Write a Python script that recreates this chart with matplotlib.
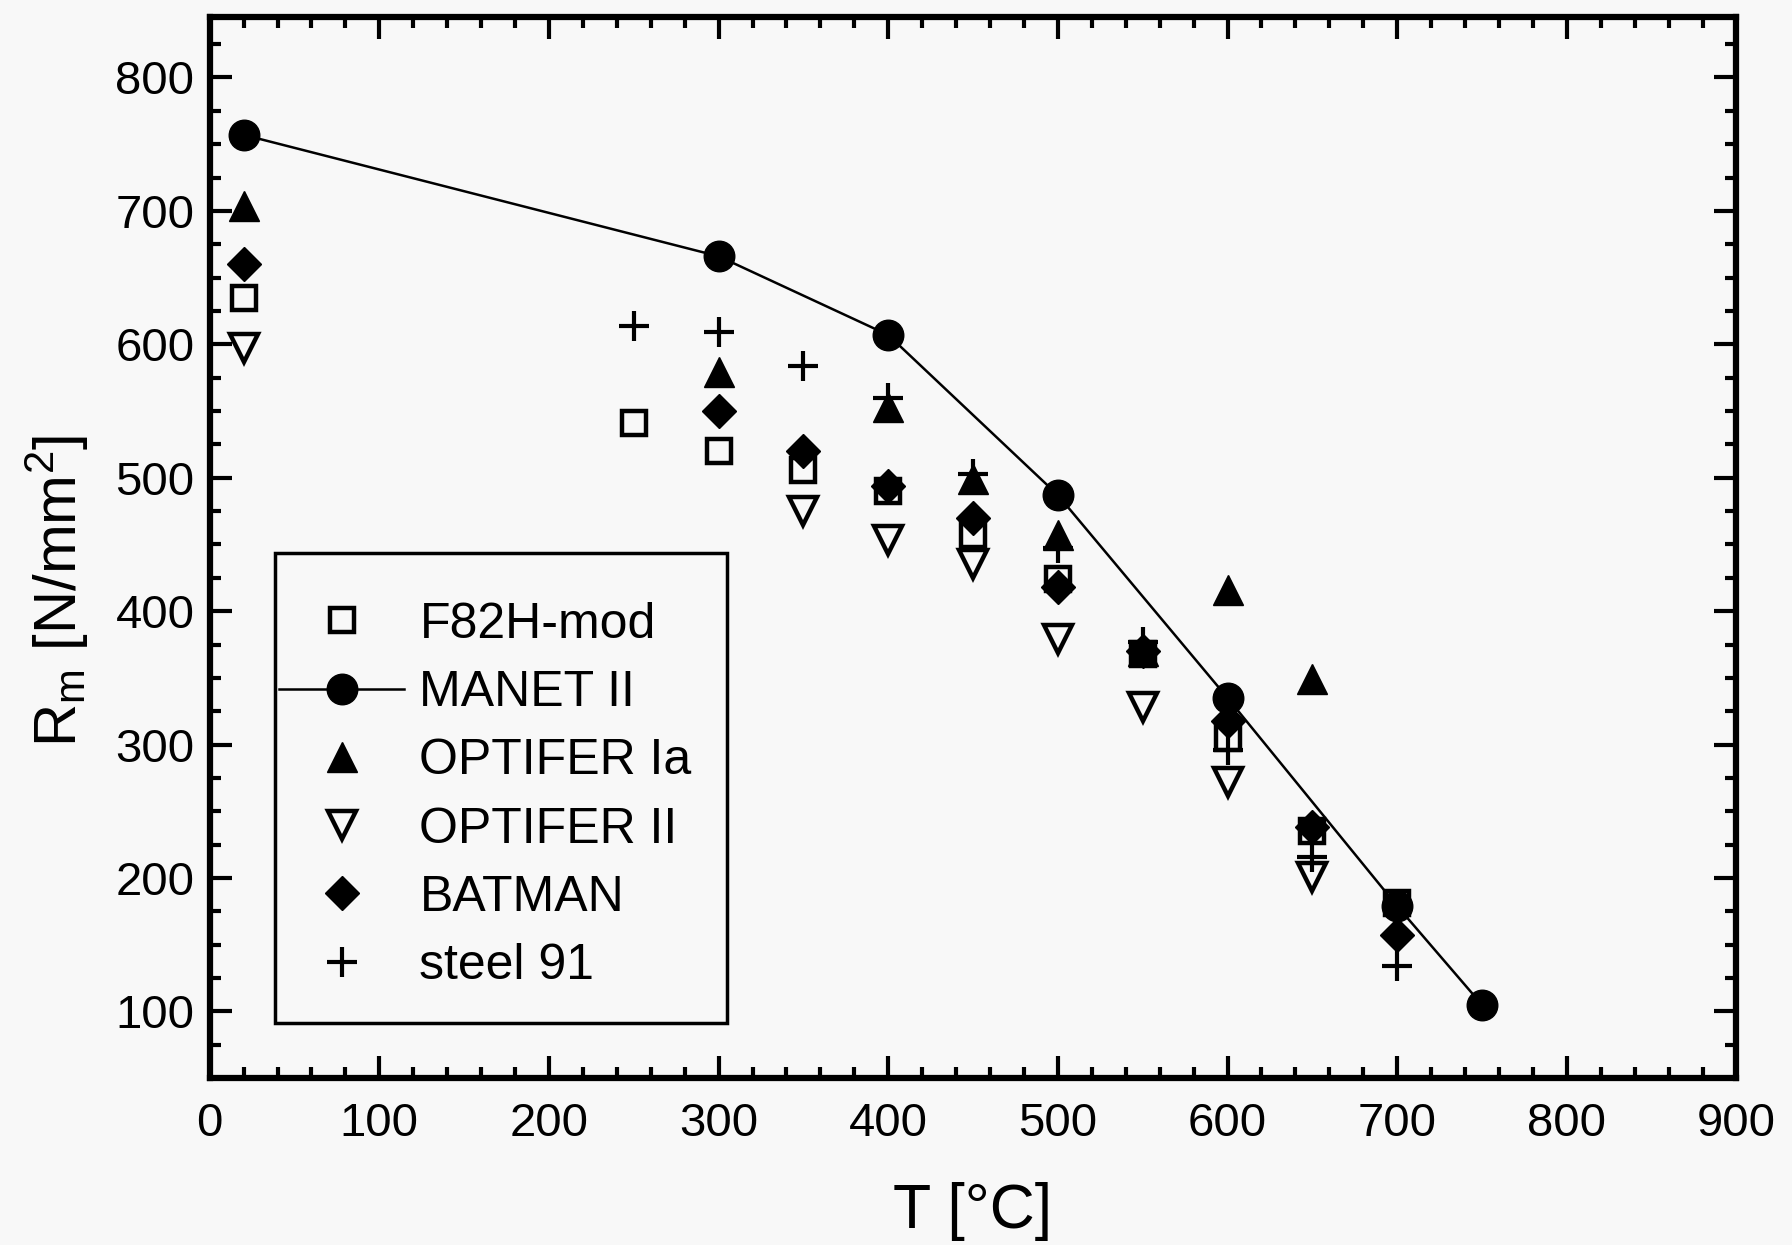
import matplotlib
matplotlib.use("Agg")
import matplotlib.pyplot as plt
from matplotlib.ticker import MultipleLocator
from matplotlib.patches import Rectangle

plt.rcParams['font.family'] = ['Liberation Sans', 'DejaVu Sans']
plt.rcParams['mathtext.default'] = 'regular'

# ---- data (T in °C, Rm in N/mm^2) ----
f82h_T = [20, 250, 300, 350, 400, 450, 500, 550, 600, 650, 700]
f82h_R = [635, 541, 520, 506, 490, 457, 424, 368, 305, 235, 181]

manet_T = [20, 300, 400, 500, 600, 700, 750]
manet_R = [757, 666, 607, 487, 335, 179, 105]

opt1a_T = [20, 300, 400, 450, 500, 550, 600, 650]
opt1a_R = [704, 579, 553, 499, 457, 370, 416, 349]

opt2_T = [20, 350, 400, 450, 500, 550, 600, 650]
opt2_R = [597, 475, 453, 435, 379, 328, 272, 201]

batman_T = [20, 300, 350, 400, 450, 500, 550, 600, 650, 700]
batman_R = [660, 550, 520, 494, 470, 418, 370, 318, 238, 157]

steel91_T = [250, 300, 350, 400, 450, 500, 550, 600, 650, 700]
steel91_R = [614, 609, 584, 560, 503, 447, 377, 296, 216, 134]

bg = '#f8f8f8'
fig = plt.figure(figsize=(17.92, 12.45), dpi=100, facecolor=bg)
ax = fig.add_axes([0.117, 0.134, 0.852, 0.852])
ax.set_facecolor(bg)

k = 'black'
h1, = ax.plot(f82h_T, f82h_R, ls='none', marker='s', ms=17, mfc='none', mec=k, mew=3.2, label='F82H-mod')
h2, = ax.plot(manet_T, manet_R, ls='-', lw=1.8, color=k, marker='o', ms=22, mfc=k, mec=k, label='MANET II', zorder=1)
h3, = ax.plot(opt1a_T, opt1a_R, ls='none', marker='^', ms=22, mfc=k, mec=k, label='OPTIFER Ia')
h4, = ax.plot(opt2_T, opt2_R, ls='none', marker='v', ms=20, mfc='none', mec=k, mew=3.2, label='OPTIFER II')
h5, = ax.plot(batman_T, batman_R, ls='none', marker='D', ms=17, mfc=k, mec=k, label='BATMAN')
h6, = ax.plot(steel91_T, steel91_R, ls='none', marker='+', ms=22, mew=3, color=k, label='steel 91')

ax.set_xlim(0, 900)
ax.set_ylim(50, 845)
ax.xaxis.set_major_locator(MultipleLocator(100))
ax.xaxis.set_minor_locator(MultipleLocator(20))
ax.yaxis.set_major_locator(MultipleLocator(100))
ax.yaxis.set_minor_locator(MultipleLocator(25))
ax.tick_params(which='both', direction='in', top=True, right=True, width=3, color=k)
ax.tick_params(which='major', length=16, labelsize=34)
ax.tick_params(which='minor', length=8)
ax.tick_params(axis='x', which='major', pad=17)
ax.tick_params(axis='y', which='major', pad=11)
for s in ax.spines.values():
    s.set_linewidth(4.5)

ax.set_xlabel('T [°C]', fontsize=45, labelpad=26)
ax.set_ylabel('R$_m$ [N/mm$^2$]', fontsize=43)
ax.yaxis.set_label_coords(-0.078, 0.459)

# legend box
ax.add_patch(Rectangle((0.043, 0.052), 0.296, 0.443, transform=ax.transAxes,
                       fill=True, facecolor=bg, edgecolor=k, lw=2.5, zorder=4))
leg = ax.legend(handles=[h1, h2, h3, h4, h5, h6], loc='upper left',
                bbox_to_anchor=(0.0457, 0.449), borderaxespad=0, borderpad=0,
                fontsize=36, frameon=False, numpoints=1,
                handlelength=2.5, handletextpad=0.3, labelspacing=0.445)
leg.set_zorder(5)

fig.savefig('out.png', dpi=100, facecolor=bg)
